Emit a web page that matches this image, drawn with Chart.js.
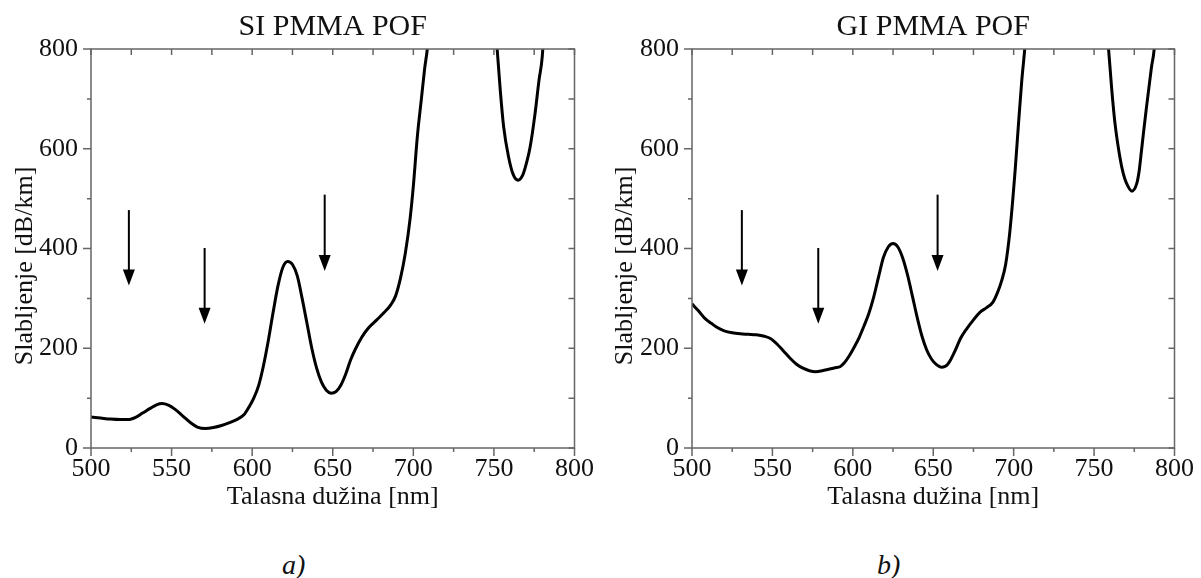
<!DOCTYPE html>
<html>
<head>
<meta charset="utf-8">
<script src="https://cdn.jsdelivr.net/npm/chart.js@4.4.0/dist/chart.umd.min.js"></script>
<style>
  body { margin: 0; background: #fff; width: 1201px; height: 578px; position: relative; overflow: hidden; }
  .panel { position: absolute; top: 0; width: 600px; height: 520px; }
  .tag { position: absolute; top: 548px; font: italic 28px 'Liberation Serif', 'Times New Roman', serif; color: #111; line-height: 34px; }
</style>
</head>
<body>
<div class="panel" style="left:0"><canvas id="chartSI" width="600" height="520"></canvas></div>
<div class="panel" style="left:600px"><canvas id="chartGI" width="600" height="520"></canvas></div>
<div class="tag" style="left:282px">a)</div>
<div class="tag" style="left:877px">b)</div>
<script>
const xTickLabels = [500, 550, 600, 650, 700, 750, 800];
const yTickLabels = [0, 200, 400, 600, 800];
const xTickMarks = [500, 525, 550, 575, 600, 625, 650, 675, 700, 725, 750, 775, 800];
const yTickMarks = [0, 100, 200, 300, 400, 500, 600, 700, 800];

// SI PMMA POF, attenuation [dB/km] vs wavelength [nm]; null = curve is above 800
const siWavelength = [500, 506, 512, 518, 523, 528, 532, 537, 541, 544, 548, 552, 557, 562, 566, 571, 576, 581, 586, 591,
  595, 598, 601, 604, 607, 610, 613, 616, 619, 622, 625, 628, 631, 634, 637, 640, 643, 646, 649, 652,
  655, 658, 661, 664, 668, 672, 677, 682, 686, 689, 692, 695, 698, 700, 702.5, 705, 707, 709, 711,
  730,
  750, 752, 754, 756, 759, 762, 765, 768, 770.5, 772.5, 775.5, 778, 780, 782];
const siAttenuation = [62, 60, 58, 57, 57, 62, 70, 80, 87, 89, 86, 78, 64, 50, 42, 39, 41, 45, 51, 58,
  67, 82, 100, 125, 165, 215, 272, 325, 362, 374, 368, 345, 300, 250, 200, 160, 132, 116, 110, 113,
  126, 148, 176, 198, 222, 240, 256, 272, 287, 305, 340, 390, 460, 525, 625, 700, 760, 810, 900,
  null,
  900, 800, 715, 645, 585, 548, 537, 548, 575, 604, 670, 738, 785, 900];

// GI PMMA POF
const giWavelength = [500, 504, 508, 512, 516, 520, 525, 530, 535, 540, 545, 549, 553, 557, 561, 565, 569, 573, 577, 581,
  585, 589, 592, 595, 598, 601, 604, 607, 610, 613, 616, 619, 622, 625, 628, 631, 634, 637, 640, 643,
  646, 649, 652, 655, 657, 659, 661, 664, 667, 671, 675, 679, 683, 687, 690, 692.5, 695, 697.5, 699.5,
  701, 703, 705, 707, 709,
  730,
  757, 759, 761, 763, 766, 768, 770, 773.5, 776.5, 778, 779.5, 781, 782.6, 784, 785.7, 787.5, 789];
const giAttenuation = [289, 275, 260, 250, 241, 235, 231, 229, 228, 227, 224, 219, 208, 194, 180, 168, 160, 155, 153, 155,
  158, 161, 163, 172, 186, 203, 222, 245, 270, 303, 343, 382, 403, 410, 403, 381, 347, 305, 262, 224,
  196, 178, 167, 162, 163, 168, 178, 198, 220, 240, 257, 272, 281, 292, 312, 335, 368, 430, 500,
  560, 650, 735, 805, 900,
  null,
  900, 800, 718, 651, 584, 552, 532, 515, 530, 555, 597, 640, 684, 720, 764, 805, 900];

// arrows: wavelength, tail value, tip value
const siArrowX = [523.5, 570.5, 645];
const giArrowX = [531, 578.5, 652.7];
const arrowTail = [477, 401, 508];
const arrowTip = [326, 249, 355];

const FONT = "'Liberation Serif', 'Times New Roman', serif";

const frameTicks = {
  id: 'frameTicks',
  afterDatasetsDraw(chart) {
    const {ctx, chartArea: a, scales: {x, y}} = chart;
    ctx.save();
    ctx.strokeStyle = '#666';
    ctx.lineWidth = 1.5;
    ctx.beginPath();
    xTickMarks.forEach(v => {
      const px = x.getPixelForValue(v);
      const len = xTickLabels.includes(v) ? 8 : 4;
      ctx.moveTo(px, a.bottom); ctx.lineTo(px, a.bottom + len);
      ctx.moveTo(px, a.top); ctx.lineTo(px, a.top + 6);
    });
    yTickMarks.forEach(v => {
      const py = y.getPixelForValue(v);
      const len = yTickLabels.includes(v) ? 8 : 4;
      ctx.moveTo(a.left, py); ctx.lineTo(a.left - len, py);
      ctx.moveTo(a.right, py); ctx.lineTo(a.right - 6, py);
    });
    ctx.stroke();
    ctx.strokeRect(a.left, a.top, a.right - a.left, a.bottom - a.top);
    // y axis title
    ctx.translate(25, 266);
    ctx.rotate(-Math.PI / 2);
    ctx.fillStyle = '#111';
    ctx.font = '26px ' + FONT;
    ctx.textAlign = 'center';
    ctx.textBaseline = 'middle';
    ctx.fillText('Slabljenje [dB/km]', 0, 0);
    ctx.restore();
  }
};

const arrows = {
  id: 'arrows',
  afterDatasetsDraw(chart, args, opts) {
    const {ctx, scales: {x, y}} = chart;
    ctx.save();
    ctx.strokeStyle = '#000';
    ctx.fillStyle = '#000';
    ctx.lineWidth = 2;
    opts.xs.forEach((v, i) => {
      const px = x.getPixelForValue(v);
      const y0 = y.getPixelForValue(opts.tail[i]);
      const y1 = y.getPixelForValue(opts.tip[i]);
      ctx.beginPath();
      ctx.moveTo(px, y0); ctx.lineTo(px, y1 - 14);
      ctx.stroke();
      ctx.beginPath();
      ctx.moveTo(px - 6, y1 - 16); ctx.lineTo(px + 6, y1 - 16); ctx.lineTo(px, y1);
      ctx.closePath();
      ctx.fill();
    });
    ctx.restore();
  }
};

function makeChart(id, title, xs, ys, arrowX, axisWidth, padRight) {
  const points = xs.map((v, i) => ({x: v, y: ys[i]}));
  return new Chart(document.getElementById(id), {
    type: 'line',
    data: {
      datasets: [{
        data: points,
        borderColor: '#000',
        borderWidth: 3,
        pointRadius: 0,
        cubicInterpolationMode: 'monotone',
        spanGaps: false,
        clip: 0
      }]
    },
    options: {
      responsive: false,
      animation: false,
      events: [],
      layout: { padding: { left: 0, right: padRight, top: 0, bottom: 0 } },
      plugins: {
        legend: { display: false },
        tooltip: { enabled: false },
        title: {
          display: true, text: title, fullSize: false, color: '#111',
          font: { family: FONT, size: 30, weight: 'normal', lineHeight: 1.2 },
          padding: { top: 9, bottom: 4 }
        },
        arrows: { xs: arrowX, tail: arrowTail, tip: arrowTip }
      },
      scales: {
        x: {
          type: 'linear', min: 500, max: 800,
          afterBuildTicks: s => { s.ticks = xTickLabels.map(v => ({value: v})); },
          afterFit: s => { s.height = 72; },
          ticks: { autoSkip: false, maxRotation: 0, padding: 6, color: '#111', font: { family: FONT, size: 26 } },
          grid: { display: false, drawTicks: false },
          border: { display: false },
          title: {
            display: true, text: 'Talasna dužina [nm]', color: '#111',
            font: { family: FONT, size: 26 }, padding: { top: 0, bottom: 7 }
          }
        },
        y: {
          type: 'linear', min: 0, max: 800,
          afterBuildTicks: s => { s.ticks = yTickLabels.map(v => ({value: v})); },
          afterFit: s => { s.width = axisWidth; },
          ticks: { padding: 13, color: '#111', font: { family: FONT, size: 26 } },
          grid: { display: false, drawTicks: false },
          border: { display: false }
        }
      }
    },
    plugins: [frameTicks, arrows]
  });
}

makeChart('chartSI', 'SI PMMA POF', siWavelength, siAttenuation, siArrowX, 91, 21);
makeChart('chartGI', 'GI PMMA POF', giWavelength, giAttenuation, giArrowX, 92, 20);
</script>
</body>
</html>
